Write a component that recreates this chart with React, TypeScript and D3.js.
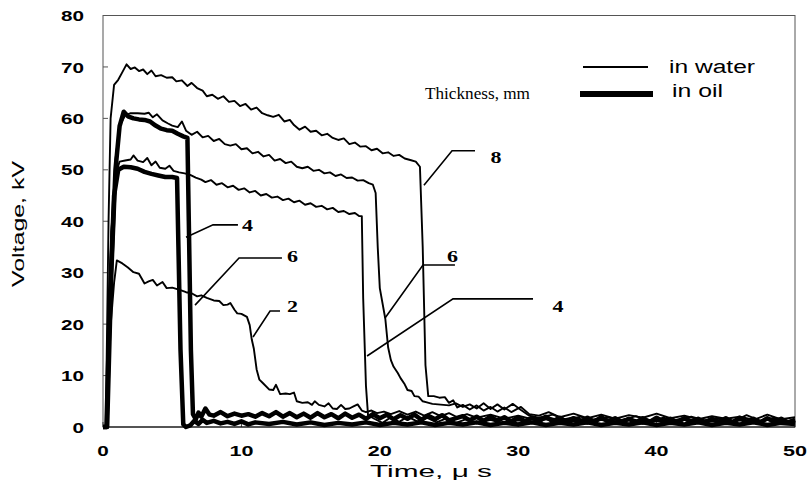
import React from "react";
import * as d3 from "d3";

type P = [number, number];

// time (µs), voltage (kV)
const water8: P[] = [
  [0,0],[0.2,0],[0.4,40],[0.55,60],[0.8,66.5],[1.1,67.5],[1.4,69],[1.7,70.5],[2.0,69.6],[2.3,69.9],[2.6,69.2],[2.9,69.5],[3.2,68.6],[3.5,69.3],[3.8,68.2],[4.2,68.4],[4.6,67.9],[5.0,68.0],[5.3,67.2],[5.7,67.4],[6.1,66.3],[6.4,66.9],[6.8,65.9],[7.2,65.4],[7.5,64.3],[7.9,64.6],[8.3,63.8],[8.7,64.3],[9.1,63.2],[9.5,63.4],[9.9,62.4],[10.3,62.8],[10.7,61.7],[11.1,62.1],[11.5,61.0],[11.9,60.6],[12.3,60.3],[12.7,60.7],[13.1,59.4],[13.5,59.7],[13.8,58.7],[14.2,57.8],[14.6,58.4],[15.0,57.4],[15.4,57.6],[15.8,56.7],[16.2,57.0],[16.6,56.2],[17.0,55.8],[17.4,56.1],[17.8,55.0],[18.2,55.3],[18.6,54.5],[19.0,54.6],[19.4,53.8],[19.8,54.1],[20.2,53.2],[20.6,53.4],[21.0,52.7],[21.4,52.9],[21.8,52.2],[22.2,51.9],[22.6,51.6],[22.9,50.6],[23.1,35],[23.3,12],[23.5,6],[23.9,6],[24.3,5.7],[24.7,5.8],[25.0,4.7],[25.3,5.2],[25.6,3.8],[26.0,4.3],[26.5,3.4],[27.0,4.2],[27.5,3.2],[28.0,3.9],[28.5,3.0],[29.0,3.8],[29.5,2.9],[30.2,3.9],[30.8,2.5],[31.5,2.2],[32.2,2.9],[33,1.9],[34,2.6],[35,1.7],[36,2.4],[37,1.6],[38,2.3],[39,1.8],[40,2.6],[41,1.7],[42,2.2],[43,1.5],[44,2.1],[45,1.6],[46,2.0],[47,1.4],[48,2.4],[49,1.5],[50,1.9]
];
const water6: P[] = [
  [0,0],[0.3,0],[0.6,35],[0.9,52],[1.2,58.5],[1.6,60.6],[2.0,61.0],[2.5,61.0],[3.0,60.9],[3.3,61.1],[3.6,60.2],[3.9,60.8],[4.3,59.6],[4.7,59.0],[5.0,58.6],[5.4,58.3],[5.7,59.4],[6.0,57.6],[6.4,56.8],[6.8,57.4],[7.2,56.3],[7.6,56.6],[8.0,55.6],[8.4,56.0],[8.8,55.0],[9.2,54.7],[9.6,55.0],[10.0,54.0],[10.4,54.2],[10.8,53.2],[11.2,53.5],[11.6,52.6],[12.0,52.9],[12.4,51.8],[12.8,52.1],[13.2,51.3],[13.6,51.6],[14.0,50.6],[14.4,50.3],[14.8,50.6],[15.2,49.8],[15.6,50.0],[16.0,49.3],[16.4,49.5],[16.8,48.8],[17.2,49.1],[17.6,48.4],[18.0,48.5],[18.4,47.9],[18.8,48.0],[19.2,47.4],[19.5,47.1],[19.7,45.5],[19.85,35],[20.0,27],[20.4,21],[20.6,15.5],[20.8,13],[21.0,11.7],[21.3,10.5],[21.5,9.5],[21.8,8.3],[22.0,7.2],[22.3,7.0],[22.5,6.0],[22.8,5.9],[23.1,5.0],[23.4,4.8],[23.8,4.5],[24.2,4.4],[24.6,4.3],[25.0,4.2],[25.5,4.6],[26,3.9],[26.5,4.4],[27,3.6],[27.5,4.6],[28,3.5],[28.5,4.4],[29,3.4],[29.6,4.5],[30.2,3.3],[30.8,2.2],[31.5,1.8],[32.5,2.4],[33.5,1.4],[34.5,2.0],[35.5,1.2],[36.5,1.9],[37.5,1.3],[38.5,2.1],[39.5,1.2],[40.5,1.8],[41.5,1.1],[42.5,2.0],[43.5,1.3],[44.5,1.7],[45.5,1.0],[46.5,2.3],[47.5,1.2],[48.5,1.8],[49.5,1.1],[50,1.5]
];
const water4: P[] = [
  [0,0],[0.3,0],[0.6,38],[0.9,49],[1.2,51.6],[1.6,51.8],[2.0,52.0],[2.2,52.8],[2.5,51.8],[2.9,51.5],[3.2,52.3],[3.5,50.9],[3.8,51.6],[4.1,50.4],[4.5,50.2],[4.8,50.8],[5.1,49.8],[5.5,49.5],[5.9,49.3],[6.3,49.0],[6.7,48.5],[7.1,48.1],[7.4,47.6],[7.8,48.0],[8.2,47.1],[8.6,47.4],[9.0,46.6],[9.4,46.9],[9.8,46.1],[10.2,46.4],[10.6,45.6],[11.0,45.9],[11.4,45.0],[11.8,45.3],[12.2,44.6],[12.6,44.8],[13.0,44.1],[13.4,44.4],[13.8,43.7],[14.2,44.0],[14.6,43.2],[15.0,43.5],[15.4,42.8],[15.8,43.0],[16.2,42.3],[16.6,42.6],[17.0,41.8],[17.4,42.0],[17.8,41.4],[18.2,41.6],[18.5,41.0],[18.7,41.0],[18.8,25],[19.0,8],[19.15,2.3],[19.6,1.6],[20.2,0.8],[20.8,1.9],[21.4,1.0],[22,2.0],[22.7,1.1],[23.4,1.8],[24.1,0.9],[24.8,1.7],[25.5,0.8],[26.2,1.5],[27,0.7],[28,1.4],[29,0.6],[30,1.3],[31,0.7],[32,1.5],[33,0.8],[34,1.2],[35,0.6],[36,1.4],[37,0.7],[38,1.3],[39,0.6],[40,1.2],[41,0.8],[42,1.4],[43,0.7],[44,1.1],[45,0.6],[46,1.3],[47,0.9],[48,1.5],[49,0.8],[50,1.1]
];
const water2: P[] = [
  [0,0],[0.2,0],[0.5,18],[0.8,28],[1.0,32.4],[1.4,31.8],[1.8,31.0],[2.2,30.1],[2.6,29.8],[3.0,27.9],[3.3,28.3],[3.6,28.6],[3.9,27.5],[4.3,28.2],[4.6,27.0],[5.0,27.1],[5.6,26.6],[6.0,26.2],[6.4,26.0],[6.8,25.4],[7.1,25.6],[7.5,25.1],[8.0,24.6],[8.4,24.5],[8.7,23.7],[9.0,23.8],[9.2,24.1],[9.5,22.8],[9.7,22.1],[10.0,22.0],[10.4,21.4],[10.6,19.8],[10.75,17],[10.9,15.2],[11.1,11.2],[11.3,9.2],[11.6,8.4],[12.0,7.3],[12.3,7.2],[12.5,8.2],[12.8,6.4],[13.2,6.5],[13.5,6.4],[13.8,6.7],[14.0,5.0],[14.4,4.7],[14.8,4.8],[15.1,4.3],[15.3,5.0],[15.6,4.3],[16.0,4.0],[16.3,4.6],[16.6,3.6],[16.9,3.5],[17.2,4.3],[17.5,3.5],[17.8,3.6],[18.1,4.0],[18.4,4.4],[18.7,3.2],[19.0,2.9],[19.4,3.2],[19.8,2.7],[20.3,3.0],[20.8,2.5],[21.4,3.1],[22,2.4],[22.6,3.0],[23.2,2.2],[23.8,2.9],[24.4,2.1],[25,2.7],[25.6,1.9],[26.3,2.5],[27,1.8],[28,2.4],[29,1.6],[30,2.2],[31,1.5],[32,2.0],[33,1.3],[34,1.9],[35,1.2],[36,1.8],[37,1.1],[38,1.7],[39,1.0],[40,1.6],[41,1.1],[42,1.8],[43,1.0],[44,1.5],[45,0.9],[46,1.6],[47,1.0],[48,1.4],[49,0.9],[50,1.2]
];
const oil6: P[] = [
  [0,0],[0.3,0],[0.6,30],[0.9,50],[1.2,58.5],[1.5,61.3],[1.8,60.4],[2.2,60.0],[2.6,59.8],[3.0,59.7],[3.4,59.4],[3.8,58.6],[4.2,58.0],[4.6,57.7],[5.0,57.6],[5.4,57.0],[5.8,56.5],[6.1,56.2],[6.2,40],[6.35,15],[6.5,2.5],[6.7,1.5],[6.9,2.8],[7.1,2.0],[7.4,3.6],[7.7,2.4],[8.0,2.2],[8.5,2.9],[9,2.1],[9.5,2.6],[10,2.2],[10.5,2.5],[11,2.0],[11.5,2.7],[12,2.1],[12.5,2.9],[13,2.0],[13.5,2.7],[14,1.9],[14.5,2.6],[15,1.8],[15.5,2.7],[16,1.9],[16.5,2.5],[17,1.7],[17.5,2.6],[18,1.8],[18.5,2.4],[19,1.6],[19.5,2.5],[20,1.7],[20.5,2.4],[21,1.5],[21.5,2.3],[22,1.6],[22.5,2.4],[23,1.4],[23.5,2.2],[24,1.5],[24.5,2.3],[25,1.3],[26,2.1],[26.5,1.3],[27,2.0],[27.5,1.2],[28,2.0],[28.5,1.2],[29,1.9],[29.5,1.1],[30,1.9],[30.5,1.1],[31,1.8],[31.5,1.1],[32,2.0],[32.5,1.1],[33,1.8],[33.5,1.0],[34,1.7],[34.5,1.0],[35,1.8],[35.5,1.0],[36,1.9],[36.5,1.1],[37,1.7],[37.5,1.0],[38,1.6],[38.5,0.9],[39,1.7],[39.5,1.0],[40,1.8],[40.5,1.0],[41,1.6],[41.5,0.9],[42,1.7],[42.5,1.0],[43,1.6],[43.5,0.9],[44,1.6],[44.5,1.0],[45,1.7],[45.5,0.9],[46,1.8],[46.5,1.0],[47,1.6],[47.5,0.9],[48,1.7],[48.5,1.0],[49,1.6],[49.5,0.9],[50,1.4]
];
const oil4: P[] = [
  [0,0],[0.25,0],[0.5,25],[0.8,45],[1.1,50.0],[1.5,50.6],[2.0,50.5],[2.5,50.2],[3.0,49.6],[3.5,49.2],[4.0,48.9],[4.5,48.6],[5.0,48.6],[5.35,48.4],[5.45,35],[5.6,15],[5.8,0.5],[6.0,0],[6.3,0.3],[6.6,1.2],[6.9,0.6],[7.2,1.4],[7.5,0.8],[8,1.2],[8.5,0.7],[9,1.0],[9.5,0.6],[10,1.1],[10.5,0.5],[11,0.9],[12,0.6],[13,1.0],[14,0.5],[15,0.9],[16,0.4],[17,0.8],[18,0.5],[19,0.9],[20,0.4],[21,0.8],[22,0.5],[23,0.9],[24,0.4],[25,0.8],[26,0.5],[27,0.9],[28,0.4],[29,0.8],[30,0.5],[31,0.9],[32,0.4],[33,0.8],[34,0.5],[35,0.9],[36,0.4],[37,0.8],[38,0.5],[39,0.9],[40,0.4],[41,0.8],[42,0.5],[43,0.9],[44,0.4],[45,0.8],[46,0.5],[47,0.9],[48,0.4],[49,0.8],[50,0.6]
];

const xTicks = [0, 10, 20, 30, 40, 50];
const yTicks = [0, 10, 20, 30, 40, 50, 60, 70, 80];

// leader lines (data units) and their labels
const leaders: { label: string; pts: P[]; at: P }[] = [
  { label: "8", pts: [[23.19, 47.0], [25.22, 53.7], [26.88, 53.7]], at: [28.4, 52.5] },
  { label: "6", pts: [[20.38, 21.2], [23.12, 31.5], [25.43, 31.5]], at: [25.25, 33.2] },
  { label: "4", pts: [[19.08, 13.8], [25.29, 24.9], [31.07, 24.9]], at: [32.88, 23.5] },
  { label: "2", pts: [[10.84, 17.5], [12.07, 22.55], [12.79, 22.55]], at: [13.69, 23.5] },
  { label: "6", pts: [[6.65, 23.7], [9.83, 32.85], [12.93, 32.85]], at: [13.69, 33.2] },
  { label: "4", pts: [[6.0, 36.9], [7.95, 39.3], [9.75, 39.3]], at: [10.44, 39.3] },
];

const waterSeries = [water8, water6, water4, water2];
const oilSeries = [oil6, oil4];

export default function App() {
  const x = d3.scaleLinear().domain([0, 50]).range([103, 795]);
  const y = d3.scaleLinear().domain([0, 80]).range([427, 15.5]);
  const line = d3.line<P>().x((d) => x(d[0])).y((d) => y(d[1]));
  const sans = "'Liberation Sans', Arial, sans-serif";
  const serif = "'Liberation Serif', 'Times New Roman', serif";

  return (
    <svg width={809} height={486} style={{ position: "absolute", left: 0, top: 0, background: "#fff" }}>
      {/* frame */}
      <rect x={x(0)} y={y(80)} width={x(50) - x(0)} height={y(0) - y(80)} fill="none" stroke="#555" strokeWidth={1} />
      {yTicks.map((t) => (
        <g key={"y" + t}>
          <line x1={x(0)} x2={x(0) + 5} y1={y(t)} y2={y(t)} stroke="#555" />
          <text x={84} y={y(t)} dy="0.36em" textAnchor="end" fontFamily={sans} fontWeight="bold" fontSize={15.5}
            textLength={String(t).length > 1 ? 23 : 11.5} lengthAdjust="spacingAndGlyphs">{t}</text>
        </g>
      ))}
      {xTicks.map((t) => (
        <g key={"x" + t}>
          <line x1={x(t)} x2={x(t)} y1={y(0)} y2={y(0) - 5} stroke="#333" />
          <text x={x(t)} y={456} textAnchor="middle" fontFamily={sans} fontWeight="bold" fontSize={15.5}
            textLength={String(t).length > 1 ? 24 : 11.5} lengthAdjust="spacingAndGlyphs">{t}</text>
        </g>
      ))}
      <text x={370} y={477} fontFamily={sans} fontSize={17} textLength={122} lengthAdjust="spacingAndGlyphs">Time, μ s</text>
      <text transform="translate(24,224) rotate(-90)" textAnchor="middle" fontFamily={sans} fontSize={16}
        textLength={126} lengthAdjust="spacingAndGlyphs">Voltage, kV</text>

      {/* series */}
      {oilSeries.map((s, i) => (
        <path key={"o" + i} d={line(s) || ""} fill="none" stroke="#000" strokeWidth={4.5} strokeLinejoin="round" />
      ))}
      {waterSeries.map((s, i) => (
        <path key={"w" + i} d={line(s) || ""} fill="none" stroke="#000" strokeWidth={1.9} strokeLinejoin="round" />
      ))}
      <line x1={x(0)} x2={x(50)} y1={y(0)} y2={y(0)} stroke="#000" strokeWidth={1.2} />

      {/* leaders */}
      {leaders.map((l, i) => (
        <g key={"l" + i}>
          <path d={line(l.pts) || ""} fill="none" stroke="#000" strokeWidth={1.6} />
          <text x={x(l.at[0])} y={y(l.at[1])} dy="0.35em" textAnchor="middle" fontFamily={serif} fontSize={17}
            fontWeight="bold" textLength={11} lengthAdjust="spacingAndGlyphs">{l.label}</text>
        </g>
      ))}

      {/* legend */}
      <line x1={583} x2={648} y1={67} y2={67} stroke="#000" strokeWidth={2} />
      <line x1={580} x2={653} y1={94} y2={94} stroke="#000" strokeWidth={6} />
      <text x={669} y={73} fontFamily={sans} fontSize={18} textLength={86} lengthAdjust="spacingAndGlyphs">in water</text>
      <text x={672} y={97} fontFamily={sans} fontSize={18} textLength={51} lengthAdjust="spacingAndGlyphs">in oil</text>
      <text x={425} y={99} fontFamily={serif} fontSize={17} textLength={105} lengthAdjust="spacingAndGlyphs">Thickness, mm</text>
    </svg>
  );
}
